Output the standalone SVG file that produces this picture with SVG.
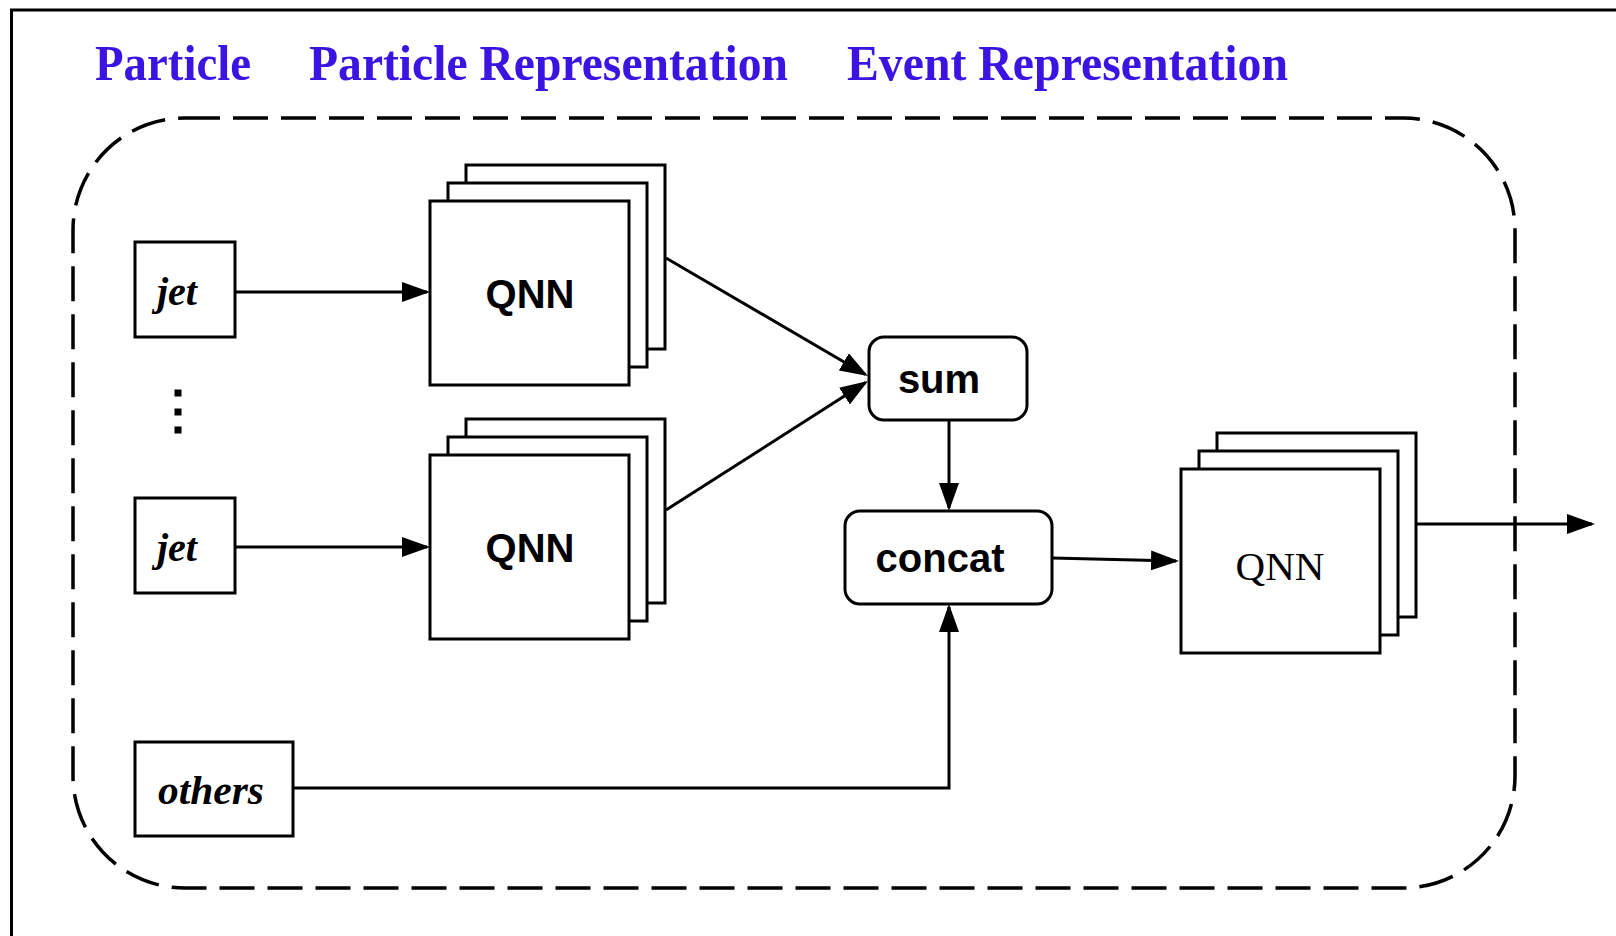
<svg xmlns="http://www.w3.org/2000/svg" width="1616" height="936" viewBox="0 0 1616 936">
  <style>
    .frame{fill:none;stroke:#000;stroke-width:3}
    .group-outline{fill:none;stroke:#000;stroke-width:3.5;stroke-dasharray:35 13}
    .title{font-family:"Liberation Serif","Times New Roman",serif;font-weight:bold;font-size:50px;fill:#3a14e0}
    .box{fill:#fff;stroke:#000;stroke-width:3}
    .ital{font-family:"Liberation Serif","Times New Roman",serif;font-style:italic;font-weight:bold;font-size:40px;text-anchor:middle;fill:#000}
    .sans{font-family:"Liberation Sans",Arial,sans-serif;font-weight:bold;font-size:40px;text-anchor:middle;fill:#000}
    .serif{font-family:"Liberation Serif","Times New Roman",serif;font-size:41px;text-anchor:middle;fill:#000}
    .wire{fill:none;stroke:#000;stroke-width:3}
  </style>
  <defs>
    <marker id="ah" viewBox="0 0 28 20" refX="25" refY="10" markerWidth="28" markerHeight="20" markerUnits="userSpaceOnUse" orient="auto">
      <path d="M0,0 L28,10 L0,20 Z" fill="#000"/>
    </marker>
  </defs>

  <rect width="1616" height="936" fill="#fff"/>
  <!-- outer frame, continues past the right and bottom edges -->
  <rect class="frame" x="11.5" y="10" width="1640" height="960"/>

  <!-- column headings -->
  <g id="headings">
    <text class="title" x="95" y="80" textLength="156" lengthAdjust="spacingAndGlyphs">Particle</text>
    <text class="title" x="309" y="80" textLength="479" lengthAdjust="spacingAndGlyphs">Particle Representation</text>
    <text class="title" x="847" y="80" textLength="441" lengthAdjust="spacingAndGlyphs">Event Representation</text>
  </g>

  <!-- dashed enclosure -->
  <rect class="group-outline" x="73" y="118" width="1442" height="770" rx="112" ry="112"/>

  <!-- connectors -->
  <g id="connectors">
    <path class="wire" d="M236,292 H427" marker-end="url(#ah)"/>
    <path class="wire" d="M236,547 H427" marker-end="url(#ah)"/>
    <path class="wire" d="M666,258 L865.4,374.5" marker-end="url(#ah)"/>
    <path class="wire" d="M666,510 L865.5,382.6" marker-end="url(#ah)"/>
    <path class="wire" d="M949,421 V508" marker-end="url(#ah)"/>
    <path class="wire" d="M1052,558 L1176,561" marker-end="url(#ah)"/>
    <path class="wire" d="M1415,524 H1592" marker-end="url(#ah)"/>
    <path class="wire" d="M293,788 H949 V607" marker-end="url(#ah)"/>
  </g>

  <g id="jet-1">
    <rect class="box" x="135" y="242" width="100" height="95"/>
    <text class="ital" x="177" y="305">jet</text>
  </g>

  <g id="ellipsis">
    <rect x="174.5" y="389.5" width="7" height="7"/>
    <rect x="174.5" y="408.5" width="7" height="7"/>
    <rect x="174.5" y="426.5" width="7" height="7"/>
  </g>

  <g id="jet-2">
    <rect class="box" x="135" y="498" width="100" height="95"/>
    <text class="ital" x="177" y="561">jet</text>
  </g>

  <g id="others">
    <rect class="box" x="135" y="742" width="158" height="94"/>
    <text class="ital" x="211" y="804" font-size="42" textLength="106" lengthAdjust="spacingAndGlyphs">others</text>
  </g>

  <g id="qnn-1">
    <rect class="box" x="466" y="165" width="199" height="184"/>
    <rect class="box" x="448" y="183" width="199" height="184"/>
    <rect class="box" x="430" y="201" width="199" height="184"/>
    <text class="sans" x="530" y="308">QNN</text>
  </g>

  <g id="qnn-2">
    <rect class="box" x="466" y="419" width="199" height="184"/>
    <rect class="box" x="448" y="437" width="199" height="184"/>
    <rect class="box" x="430" y="455" width="199" height="184"/>
    <text class="sans" x="530" y="562">QNN</text>
  </g>

  <g id="sum">
    <rect class="box" x="869" y="337" width="158" height="83" rx="15" ry="15"/>
    <text class="sans" x="939" y="393">sum</text>
  </g>

  <g id="concat">
    <rect class="box" x="845" y="511" width="207" height="93" rx="15" ry="15"/>
    <text class="sans" x="940" y="572">concat</text>
  </g>

  <g id="qnn-3">
    <rect class="box" x="1217" y="433" width="199" height="184"/>
    <rect class="box" x="1199" y="451" width="199" height="184"/>
    <rect class="box" x="1181" y="469" width="199" height="184"/>
    <text class="serif" x="1280" y="580">QNN</text>
  </g>
</svg>
